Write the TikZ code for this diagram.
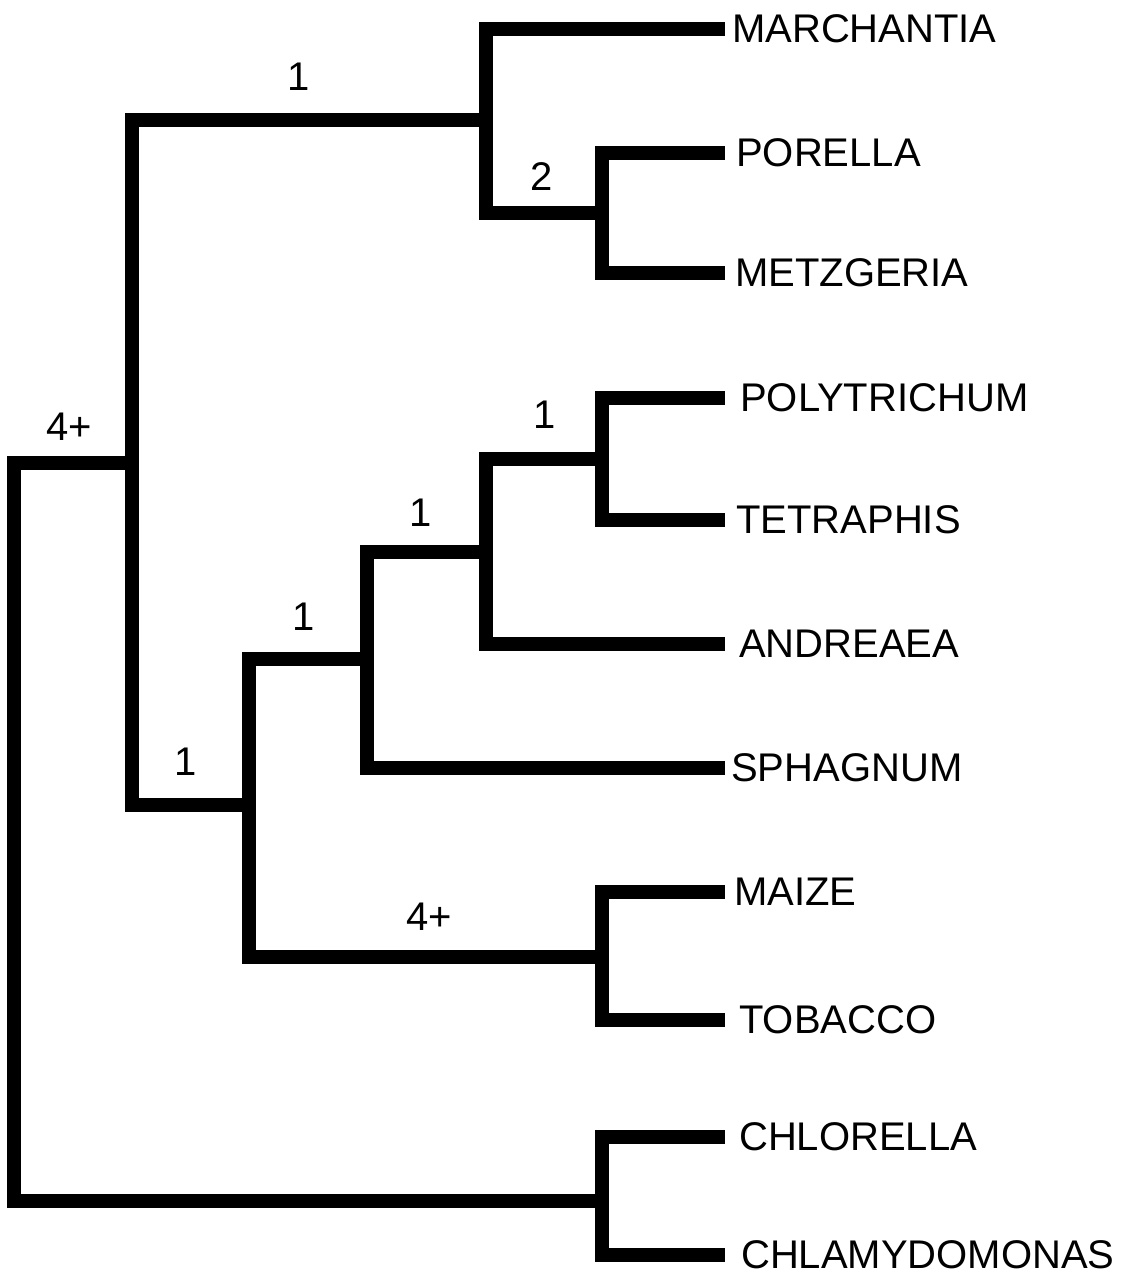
\documentclass[tikz,border=0pt]{standalone}
\usepackage{fontspec}
\setmainfont{Liberation Sans}
\begin{document}
\begin{tikzpicture}[x=1pt,y=-1pt,
  branch/.style={line width=14pt, line join=miter, line cap=butt, black},
  leaf/.style={anchor=west, inner sep=0pt, font=\fontsize{40}{48}\selectfont},
  support/.style={anchor=center, inner sep=0pt, font=\fontsize{40}{48}\selectfont}]
\useasboundingbox (0,0) rectangle (1132,1274);
% internal nodes (vertical bar x, parent-connection y)
\coordinate (R) at (14,832);
\coordinate (A) at (132,463);
\coordinate (L) at (486,120);
\coordinate (P) at (602,213);
\coordinate (B) at (249,805);
\coordinate (C) at (367,659);
\coordinate (D) at (486,552);
\coordinate (E) at (602,459);
\coordinate (V) at (602,957);
\coordinate (G) at (602,1201);
% leaf ends
\coordinate (e1) at (725,28.5);
\coordinate (e2) at (725,153);
\coordinate (e3) at (725,273);
\coordinate (e4) at (725,398);
\coordinate (e5) at (725,520);
\coordinate (e6) at (725,644);
\coordinate (e7) at (725,768);
\coordinate (e8) at (725,892);
\coordinate (e9) at (725,1020);
\coordinate (e10) at (725,1137);
\coordinate (e11) at (725,1255);
% leaf labels
\node[leaf] (marchantia) at (732,28.5) {MARCHANTIA};
\node[leaf] (porella) at (736,153) {PORELLA};
\node[leaf] (metzgeria) at (735,273) {METZGERIA};
\node[leaf] (polytrichum) at (740,398) {POLYTRICHUM};
\node[leaf] (tetraphis) at (736,520) {TETRAPHIS};
\node[leaf] (andreaea) at (739,644) {ANDREAEA};
\node[leaf] (sphagnum) at (731,768) {SPHAGNUM};
\node[leaf] (maize) at (734,892) {MAIZE};
\node[leaf] (tobacco) at (739,1020) {TOBACCO};
\node[leaf] (chlorella) at (739,1137) {CHLORELLA};
\node[leaf] (chlamydomonas) at (741,1255) {CHLAMYDOMONAS};
% branches
\draw[branch] (R) |- (A);
\draw[branch] (R) |- (G);
\draw[branch] (A) |- (L);
\draw[branch] (A) |- (B);
\draw[branch] (L) |- (e1);
\draw[branch] (L) |- (P);
\draw[branch] (P) |- (e2);
\draw[branch] (P) |- (e3);
\draw[branch] (B) |- (C);
\draw[branch] (B) |- (V);
\draw[branch] (C) |- (D);
\draw[branch] (C) |- (e7);
\draw[branch] (D) |- (E);
\draw[branch] (D) |- (e6);
\draw[branch] (E) |- (e4);
\draw[branch] (E) |- (e5);
\draw[branch] (V) |- (e8);
\draw[branch] (V) |- (e9);
\draw[branch] (G) |- (e10);
\draw[branch] (G) |- (e11);
% support values
\node[support] (sR) at (69,427) {4+};
\node[support] (sL) at (299,77) {1};
\node[support] (sP) at (542,177) {2};
\node[support] (sE) at (545,415) {1};
\node[support] (sD) at (421,513) {1};
\node[support] (sC) at (304,617) {1};
\node[support] (sB) at (186,762) {1};
\node[support] (sV) at (429,917) {4+};
\end{tikzpicture}
\end{document}
